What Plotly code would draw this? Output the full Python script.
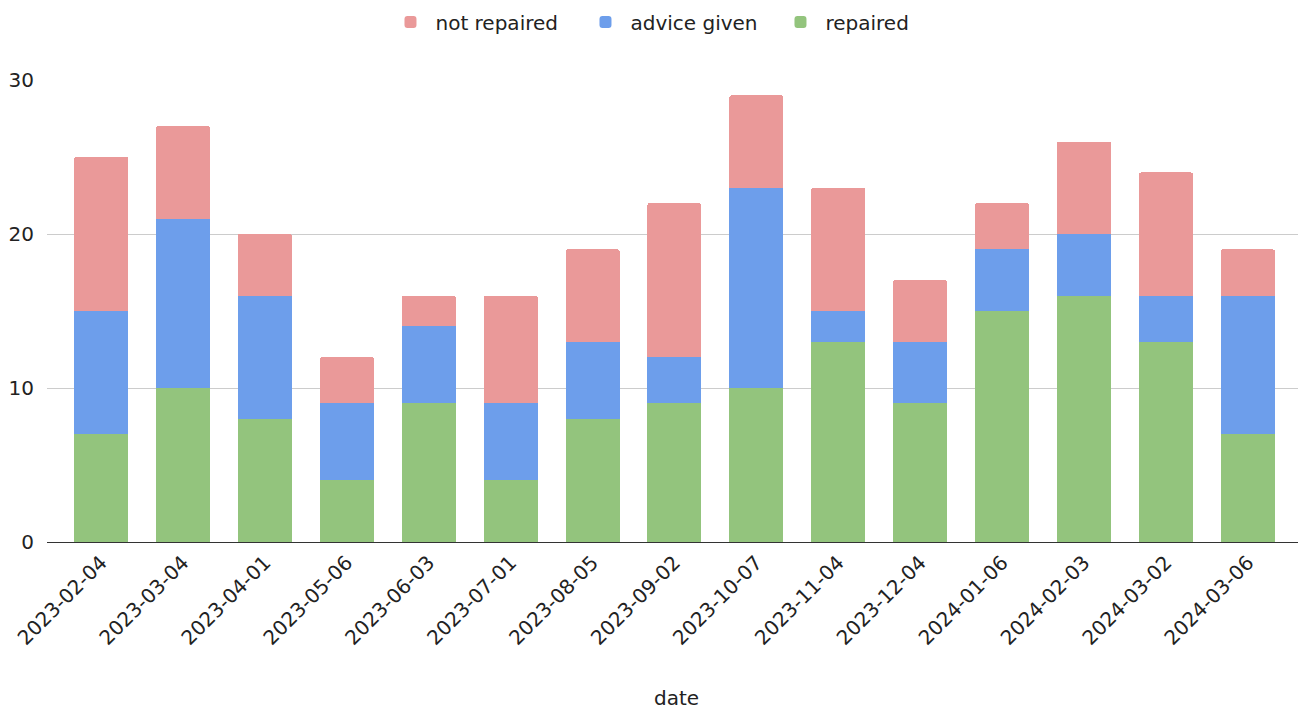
import plotly.graph_objects as go

dates = ["2023-02-04", "2023-03-04", "2023-04-01", "2023-05-06", "2023-06-03",
         "2023-07-01", "2023-08-05", "2023-09-02", "2023-10-07", "2023-11-04",
         "2023-12-04", "2024-01-06", "2024-02-03", "2024-03-02", "2024-03-06"]
repaired = [7, 10, 8, 4, 9, 4, 8, 9, 10, 13, 9, 15, 16, 13, 7]
advice_given = [8, 11, 8, 5, 5, 5, 5, 3, 13, 2, 4, 4, 4, 3, 9]
not_repaired = [10, 6, 4, 3, 2, 7, 6, 10, 6, 8, 4, 3, 6, 8, 3]

FONT = "DejaVu Sans, Roboto, Arial, sans-serif"

fig = go.Figure()
fig.add_trace(go.Bar(x=dates, y=repaired, name="repaired", marker_color="#93c47d", marker_line_width=0))
fig.add_trace(go.Bar(x=dates, y=advice_given, name="advice given", marker_color="#6d9eeb", marker_line_width=0))
fig.add_trace(go.Bar(x=dates, y=not_repaired, name="not repaired", marker_color="#ea9999", marker_line_width=0))

fig.update_layout(
    barmode="stack",
    bargap=0.34,
    barcornerradius=2,
    width=1306, height=711,
    margin=dict(l=39, r=8, t=72, b=177, autoexpand=False),
    paper_bgcolor="white", plot_bgcolor="white",
    font=dict(family=FONT, size=20, color="#222222"),
    legend=dict(orientation="h", xref="container", yref="container",
                x=0.513, xanchor="center", y=1 - 14 / 711, yanchor="middle",
                traceorder="reversed", font=dict(size=20, color="#222222"),
                entrywidth=140, itemwidth=40, itemsizing="constant"),
    xaxis=dict(type="category", range=[-0.66, 14.71], tickangle=-45, automargin=False,
               showgrid=False, showline=True, linecolor="#333333", linewidth=1,
               ticks="", tickfont=dict(size=20),
               title=dict(text="date", standoff=42, font=dict(size=20))),
    yaxis=dict(range=[0, 30], dtick=10, showgrid=True, gridcolor="#cccccc", automargin=False,
               zeroline=False, showline=False, ticks="", ticklen=0, ticklabelstandoff=12,
               tickfont=dict(size=20)),
)

fig.write_html("out.html")
